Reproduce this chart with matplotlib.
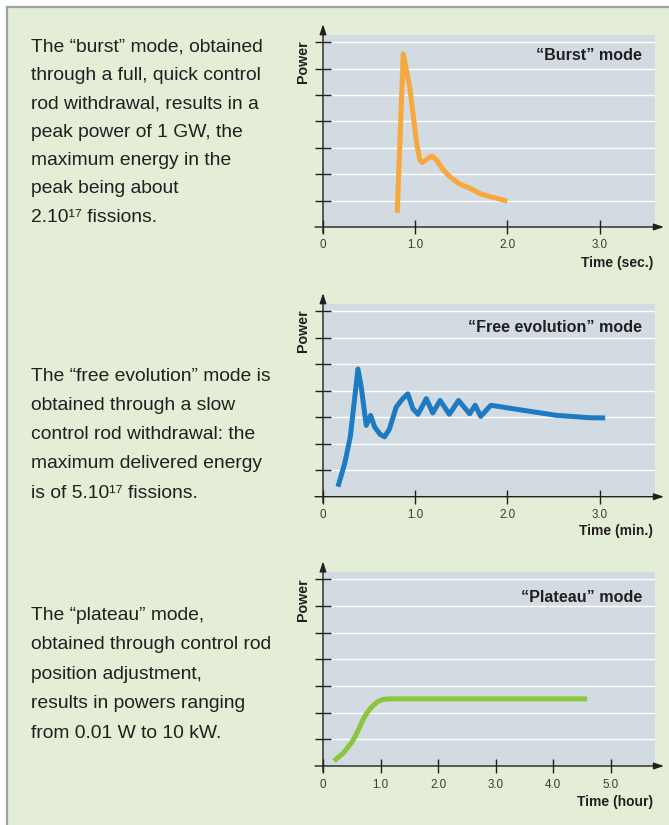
import matplotlib
matplotlib.use("Agg")
import matplotlib.pyplot as plt
from matplotlib.lines import Line2D
from matplotlib.patches import Rectangle

plt.rcParams["font.family"] = ["Liberation Sans", "DejaVu Sans"]

# ---- Data
burst_t = [0.805, 0.87, 0.94, 0.98, 1.015, 1.05, 1.076, 1.12, 1.18, 1.23, 1.30, 1.376,
           1.48, 1.59, 1.70, 1.81, 1.88, 2.0]
burst_p = [0.54, 6.55, 5.3, 4.18, 3.17, 2.54, 2.44, 2.55, 2.69, 2.54, 2.18, 1.9,
           1.63, 1.47, 1.27, 1.15, 1.09, 0.98]

free_t = [0.162, 0.235, 0.296, 0.379, 0.415, 0.469, 0.516, 0.56, 0.62, 0.668, 0.72,
          0.794, 0.86, 0.92, 0.975, 1.03, 1.12, 1.19, 1.27, 1.37, 1.47, 1.59, 1.65,
          1.71, 1.82, 2.17, 2.53, 2.89, 3.06]
free_p = [0.376, 1.25, 2.26, 4.82, 4.13, 2.69, 3.07, 2.63, 2.35, 2.26, 2.55,
          3.38, 3.68, 3.88, 3.32, 3.11, 3.70, 3.16, 3.63, 3.11, 3.63, 3.13, 3.45,
          3.03, 3.45, 3.26, 3.07, 2.98, 2.97]

plateau_t = [0.19, 0.35, 0.49, 0.57, 0.64, 0.71, 0.78, 0.87, 0.96, 1.05, 1.16, 4.59]
plateau_p = [0.19, 0.48, 0.86, 1.15, 1.48, 1.80, 2.05, 2.27, 2.43, 2.50, 2.52, 2.52]

titles = ["\u201cBurst\u201d mode", "\u201cFree evolution\u201d mode", "\u201cPlateau\u201d mode"]
xlabels = ["Time (sec.)", "Time (min.)", "Time (hour)"]
xticks = [[0, 1, 2, 3], [0, 1, 2, 3], [0, 1, 2, 3, 4, 5]]
xticklabels = [["0", "1.0", "2.0", "3.0"], ["0", "1.0", "2.0", "3.0"],
               ["0", "1.0", "2.0", "3.0", "4.0", "5.0"]]

texts = [
    ["The \u201cburst\u201d mode, obtained", "through a full, quick control",
     "rod withdrawal, results in a", "peak power of 1 GW, the",
     "maximum energy in the", "peak being about", "2.10\u00b9\u2077 fissions."],
    ["The \u201cfree evolution\u201d mode is", "obtained through a slow",
     "control rod withdrawal: the", "maximum delivered energy",
     "is of 5.10\u00b9\u2077 fissions."],
    ["The \u201cplateau\u201d mode,", "obtained through control rod",
     "position adjustment,", "results in powers ranging",
     "from 0.01 W to 10 kW."],
]

W, H = 669, 825
BG = "#e4eed7"
PANEL = "#d1dbe1"
INK = "#231f20"
colors = ["#f8a73c", "#1f7bc1", "#8cc63e"]

# layout in pixels: origin x/y, panel top, panel right, x max, title / label / text baselines
layout = [
    (323, 227, 35, 655, 3.6, 60, 266.7, 51.7, 28.3),
    (323, 496.7, 304, 655, 3.6, 331.7, 535, 380.7, 29.2),
    (323, 766, 572.3, 655, 5.77, 602.3, 806, 619.8, 29.5),
]
series = [(burst_t, burst_p), (free_t, free_p), (plateau_t, plateau_p)]
YMAX = 7.27
YTIP = 7.68


def main():
    fig = plt.figure(figsize=(W / 100, H / 100), dpi=100)
    fig.patch.set_facecolor("white")
    fig.patches.append(Rectangle((7 / W, 0), 1 - 7 / W, 1 - 7 / H, transform=fig.transFigure,
                                 facecolor=BG, edgecolor="none", zorder=-2))
    fig.lines.append(Line2D([7 / W, 7 / W], [0, 1 - 7 / H], transform=fig.transFigure,
                            color="#9ca3a8", lw=1.6, zorder=-1))
    fig.lines.append(Line2D([7 / W, 1], [1 - 7 / H, 1 - 7 / H], transform=fig.transFigure,
                            color="#9ca3a8", lw=1.6, zorder=-1))

    for i, (ox, oy, ty, rx, xmax, tb, lb, fb, step) in enumerate(layout):
        ax = fig.add_axes([ox / W, 1 - oy / H, (rx - ox) / W, (oy - ty) / H])
        ax.set_facecolor(PANEL)
        ax.set_xlim(0, xmax)
        ax.set_ylim(0, YMAX)
        for s in ax.spines.values():
            s.set_visible(False)
        ax.set_yticks(range(1, 8))
        ax.set_yticklabels([])
        ax.grid(True, axis="y", color="white", lw=1.0)
        ax.set_axisbelow(True)
        ax.tick_params(axis="y", direction="inout", length=11, width=1.0, color=INK)
        ax.set_xticks(xticks[i])
        ax.set_xticklabels(xticklabels[i])
        ax.tick_params(axis="x", direction="inout", length=10, width=1.0, color=INK,
                       labelsize=8.4, labelcolor="#3a3a3a", pad=4)

        t, p = series[i]
        ax.plot(t, p, color=colors[i], lw=3.6, solid_capstyle="butt",
                solid_joinstyle="round", zorder=3)

        # axis arrows
        xppu = (rx - ox) / xmax
        yppu = (oy - ty) / YMAX
        arrow = dict(arrowstyle="-|>,head_length=0.6,head_width=0.2", color=INK,
                     lw=1.0, shrinkA=0, shrinkB=0, mutation_scale=10)
        ax.annotate("", xy=(0, YTIP), xytext=(0, -6 / yppu), xycoords="data",
                    arrowprops=arrow, annotation_clip=False)
        ax.annotate("", xy=((664 - ox) / xppu, 0), xytext=(-8 / xppu, 0),
                    xycoords="data", arrowprops=arrow, annotation_clip=False)

        fig.text(642 / W, 1 - tb / H, titles[i], ha="right", va="baseline",
                 fontsize=11.6, fontweight="bold", color=INK)
        fig.text(653 / W, 1 - lb / H, xlabels[i], ha="right", va="baseline",
                 fontsize=10, fontweight="bold", color=INK)
        fig.text(303 / W, 1 - (ty + 27) / H, "Power", rotation=90, ha="center", va="center",
                 fontsize=10.3, fontweight="bold", color=INK)

        for k, line in enumerate(texts[i]):
            fig.text(30.7 / W, 1 - (fb + k * step) / H, line, ha="left", va="baseline",
                     fontsize=13.9, color=INK)

    fig.savefig("out.png", dpi=100, facecolor=fig.get_facecolor())


if __name__ == "__main__":
    main()
